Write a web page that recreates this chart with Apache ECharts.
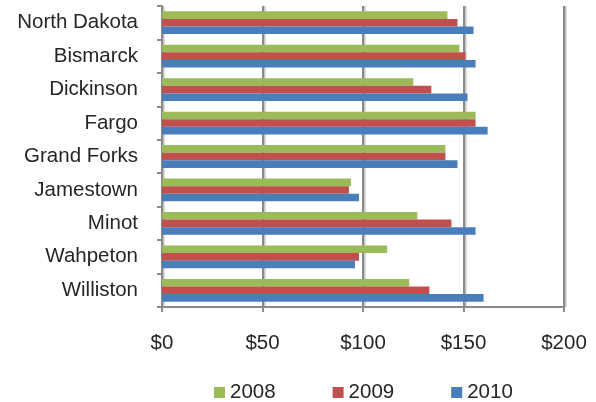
<!DOCTYPE html>
<html>
<head>
<meta charset="utf-8">
<script src="https://cdn.jsdelivr.net/npm/echarts@6/dist/echarts.min.js"></script>
<style>
  html, body { margin: 0; padding: 0; background: #fff; }
  #chart { width: 596px; height: 402px; }
</style>
</head>
<body>
<div id="chart"></div>
<script>
const categories = ['North Dakota', 'Bismarck', 'Dickinson', 'Fargo', 'Grand Forks', 'Jamestown', 'Minot', 'Wahpeton', 'Williston']
const values2008 = [142, 148, 125, 156, 141, 94, 127, 112, 123]
const values2009 = [147, 151, 134, 156, 141, 93, 144, 98, 133]
const values2010 = [155, 156, 152, 162, 147, 98, 156, 96, 160]
const xTicks = [0, 50, 100, 150, 200]

const font = 'Arial, "Liberation Sans", sans-serif'
const axisGray = '#8a8a8a'

const myChart = echarts.init(document.getElementById('chart'), null, { renderer: 'canvas' })

const barSeries = (name, data, color) => ({
  name,
  type: 'bar',
  data,
  barWidth: 7.6,
  barGap: '0%',
  itemStyle: { color },
})

myChart.setOption({
  animation: false,
  grid: { left: 162, right: 32, top: 6, bottom: 95 },
  legend: {
    left: 209,
    top: 377,
    itemWidth: 11,
    itemHeight: 11,
    itemGap: 57,
    icon: 'rect',
    textStyle: { fontSize: 20.5, color: '#262626', fontFamily: font },
    data: ['2008', '2009', '2010'],
  },
  xAxis: {
    type: 'value',
    min: xTicks[0],
    max: xTicks[xTicks.length - 1],
    interval: 50,
    axisLine: { show: true, lineStyle: { color: axisGray, width: 2 } },
    axisTick: { show: true, length: 5, lineStyle: { color: axisGray, width: 2 } },
    axisLabel: {
      margin: 26,
      fontSize: 20.5,
      color: '#262626',
      fontFamily: font,
      formatter: (v) => '$' + v,
    },
    splitLine: {
      show: true,
      lineStyle: {
        color: axisGray,
        width: 2,
        shadowColor: 'rgba(0,0,0,0.25)',
        shadowOffsetX: 1.5,
        shadowBlur: 1,
      },
    },
  },
  yAxis: {
    type: 'category',
    inverse: true,
    data: categories,
    axisLine: { show: true, lineStyle: { color: axisGray, width: 2 } },
    axisTick: { show: true, length: 5, lineStyle: { color: axisGray, width: 2 } },
    axisLabel: {
      margin: 24,
      fontSize: 20.5,
      color: '#262626',
      fontFamily: font,
    },
  },
  series: [
    barSeries('2008', values2008, '#9bbb59'),
    barSeries('2009', values2009, '#c0504d'),
    barSeries('2010', values2010, '#4a7ebb'),
  ],
})
</script>
</body>
</html>
